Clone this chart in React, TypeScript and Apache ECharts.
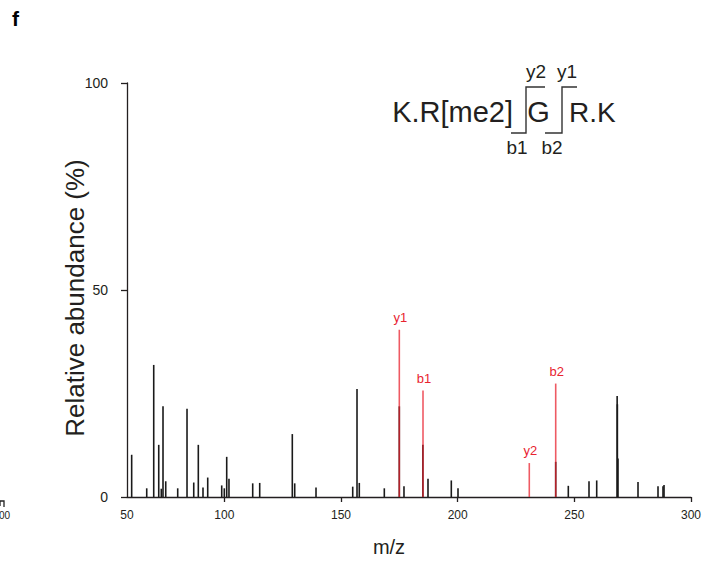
import React, { useEffect, useRef } from "react";
import * as echarts from "echarts";

// Black (unassigned) fragment peaks: m/z and relative abundance (%)
const blackMz = [
  60.3, 66.75, 69.75, 71.9, 73.0, 73.73, 74.9, 80.03, 84.02, 86.9, 88.86, 90.87,
  92.89, 98.89, 100.0, 101.03, 102.0, 112.17, 115.17, 129.14, 130.17, 139.3,
  155.03, 156.87, 157.85, 168.57, 175.0, 177.0, 185.1, 187.29, 197.28, 200.15,
  242.02, 247.42, 256.29, 259.59, 268.35, 268.45, 268.7, 277.29, 285.86, 288.0,
  288.44,
];
const blackAbund = [
  10.2, 2.1, 31.9, 12.6, 2.0, 21.9, 3.8, 2.1, 21.3, 3.5, 12.6, 2.3,
  4.7, 2.8, 2.1, 9.7, 4.4, 3.3, 3.4, 15.2, 3.3, 2.3,
  2.5, 26.1, 3.4, 2.1, 21.9, 2.6, 12.6, 4.4, 4.0, 2.1,
  8.5, 2.7, 3.8, 4.0, 24.4, 22.4, 9.3, 3.6, 2.6, 2.6,
  2.9,
];

// Assigned fragment ions (red)
const ionLabels = ["y1", "b1", "y2", "b2"];
const ionMz = [175.0, 185.15, 230.7, 242.02];
const ionAbund = [40.4, 25.7, 8.2, 27.4];

// Axis ticks
const xTickValues = [100, 150, 200, 250, 300];
const xMin = 58.3;
const xMax = 300;
const yTicks = [0, 50, 100];

const FONT = "'Liberation Sans', Arial, Helvetica, sans-serif";
const INK = "#231f20";
const RED = "#e8232f";

export default function App() {
  const ref = useRef<HTMLDivElement>(null);

  useEffect(() => {
    if (!ref.current) return;
    const chart = echarts.init(ref.current, null, { renderer: "svg" });

    const blackData = blackMz.map((m, i) => [m, blackAbund[i]]);
    const redData = ionMz.map((m, i) => [m, ionAbund[i], ionLabels[i]]);

    const option: any = {
      animation: false,
      backgroundColor: "#ffffff",
      grid: { left: 127, right: 21, top: 83, bottom: 58, containLabel: false },
      xAxis: {
        type: "value",
        min: xMin,
        max: xMax,
        name: "m/z",
        nameLocation: "middle",
        nameGap: 40,
        nameMoveOverlap: false,
        nameTextStyle: {
          fontFamily: FONT,
          fontSize: 20,
          color: INK,
          padding: [0, 40, 0, 0],
        },
        axisLine: { show: true, onZero: false, lineStyle: { color: INK, width: 1.3 } },
        axisTick: {
          show: true,
          length: 5,
          customValues: xTickValues,
          lineStyle: { color: INK, width: 1.3 },
        },
        axisLabel: {
          show: true,
          customValues: [xMin, ...xTickValues],
          formatter: (v: number) => (v < 60 ? "50" : String(v)),
          fontFamily: FONT,
          fontSize: 12,
          color: INK,
          margin: 12,
        },
        splitLine: { show: false },
      },
      yAxis: {
        type: "value",
        min: yTicks[0],
        max: yTicks[yTicks.length - 1],
        interval: 50,
        name: "Relative abundance (%)",
        nameLocation: "middle",
        nameGap: 39,
        nameMoveOverlap: false,
        nameTextStyle: { fontFamily: FONT, fontSize: 26, color: INK, padding: [0, 16, 0, 0] },
        axisLine: { show: true, lineStyle: { color: INK, width: 1.3 } },
        axisTick: { show: true, length: 6, lineStyle: { color: INK, width: 1.3 } },
        axisLabel: {
          fontFamily: FONT,
          fontSize: 14,
          color: INK,
          margin: 19,
        },
        splitLine: { show: false },
      },
      series: [
        {
          type: "custom",
          name: "peaks",
          data: blackData,
          clip: false,
          renderItem: (params: any, api: any) => {
            const x = api.value(0);
            const y = api.value(1);
            const p0 = api.coord([x, 0]);
            const p1 = api.coord([x, y]);
            return {
              type: "line",
              shape: { x1: p0[0], y1: p0[1], x2: p1[0], y2: p1[1] },
              style: { stroke: "#1a1a1a", lineWidth: 1.6 },
            };
          },
        },
        {
          type: "custom",
          name: "ions",
          data: redData,
          clip: false,
          z: 3,
          renderItem: (params: any, api: any) => {
            const x = api.value(0);
            const y = api.value(1);
            const label = ionLabels[params.dataIndex];
            const p0 = api.coord([x, 0]);
            const p1 = api.coord([x, y]);
            return {
              type: "group",
              children: [
                {
                  type: "line",
                  shape: { x1: p0[0], y1: p0[1], x2: p1[0], y2: p1[1] },
                  style: { stroke: RED, lineWidth: 1.6, opacity: 0.75 },
                },
                {
                  type: "text",
                  x: p1[0] + 1,
                  y: p1[1] - 6,
                  style: {
                    text: label,
                    fill: RED,
                    fontFamily: FONT,
                    fontSize: 13,
                    textAlign: "center",
                    textVerticalAlign: "bottom",
                  },
                },
              ],
            };
          },
        },
      ],
      graphic: [
        {
          type: "text",
          left: 12,
          top: 8,
          style: { text: "f", fontFamily: FONT, fontSize: 21, fontWeight: "bold", fill: "#000" },
        },
        {
          type: "text",
          x: 513,
          y: 112,
          style: {
            text: "K.R[me2]",
            fontFamily: FONT,
            fontSize: 29,
            fill: INK,
            textAlign: "right",
            textVerticalAlign: "middle",
          },
        },
        {
          type: "text",
          x: 538.5,
          y: 112,
          style: {
            text: "G",
            fontFamily: FONT,
            fontSize: 29,
            fill: INK,
            textAlign: "center",
            textVerticalAlign: "middle",
          },
        },
        {
          type: "text",
          x: 569,
          y: 112,
          style: {
            text: "R.K",
            fontFamily: FONT,
            fontSize: 28,
            fill: INK,
            textAlign: "left",
            textVerticalAlign: "middle",
          },
        },
        {
          type: "text",
          x: 536,
          y: 71,
          style: { text: "y2", fontFamily: FONT, fontSize: 19, fill: INK, textAlign: "center", textVerticalAlign: "middle" },
        },
        {
          type: "text",
          x: 567,
          y: 71,
          style: { text: "y1", fontFamily: FONT, fontSize: 19, fill: INK, textAlign: "center", textVerticalAlign: "middle" },
        },
        {
          type: "text",
          x: 517,
          y: 147,
          style: { text: "b1", fontFamily: FONT, fontSize: 19, fill: INK, textAlign: "center", textVerticalAlign: "middle" },
        },
        {
          type: "text",
          x: 552,
          y: 147,
          style: { text: "b2", fontFamily: FONT, fontSize: 19, fill: INK, textAlign: "center", textVerticalAlign: "middle" },
        },
        {
          type: "polyline",
          shape: { points: [[511, 133], [526, 133], [526, 87], [545, 87]] },
          style: { stroke: "#333", lineWidth: 1.4, fill: null },
        },
        {
          type: "polyline",
          shape: { points: [[545, 133], [562, 133], [562, 87], [577, 87]] },
          style: { stroke: "#333", lineWidth: 1.4, fill: null },
        },
        {
          type: "polyline",
          shape: { points: [[0, 506], [0, 501], [4, 501], [4, 507]] },
          style: { stroke: "#222", lineWidth: 1.3, fill: null },
        },
        {
          type: "text",
          x: -1,
          y: 515,
          style: { text: "00", fontFamily: FONT, fontSize: 10, fill: INK, textAlign: "left", textVerticalAlign: "middle" },
        },
      ],
    };

    chart.setOption(option);
    return () => chart.dispose();
  }, []);

  return (
    <div
      ref={ref}
      style={{ position: "fixed", left: 0, top: 0, width: 712, height: 562, background: "#fff" }}
    />
  );
}
